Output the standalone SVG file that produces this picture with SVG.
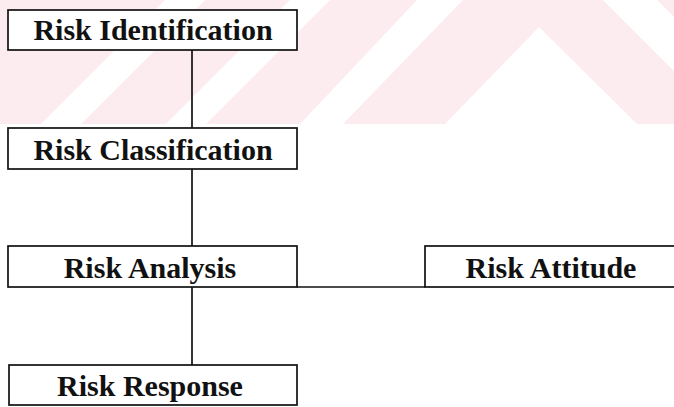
<svg xmlns="http://www.w3.org/2000/svg" width="674" height="407" viewBox="0 0 674 407">
<style>
.box{fill:#ffffff;stroke:#111;stroke-width:1.7}
.lbl{font-family:"Liberation Serif","Times New Roman",serif;font-weight:bold;font-size:30px;fill:#111;text-anchor:middle}
.con{stroke:#111;stroke-width:1.7;fill:none}
.wm{fill:#fcecef}
.gap{fill:#ffffff}
</style>
<rect width="674" height="407" fill="#ffffff"/>
<g id="watermark">
<rect class="wm" x="0" y="0" width="674" height="124"/>
<polygon class="gap" points="165,0 205,0 81,124 41,124"/>
<polygon class="gap" points="290,0 330,0 206,124 166,124"/>
<polygon class="gap" points="417,0 463,0 343,124 300,124"/>
<polygon class="gap" points="539,27 445,124 637,124"/>
<polygon class="gap" points="603,0 657,0 674,17 674,71"/>
</g>
<g id="connectors">
<line class="con" x1="192" y1="50" x2="192" y2="128"/>
<line class="con" x1="192" y1="169" x2="192" y2="246"/>
<line class="con" x1="192" y1="287" x2="192" y2="365"/>
<line class="con" x1="297" y1="287" x2="425" y2="287"/>
</g>
<g id="risk-identification">
<rect class="box" x="8" y="10" width="289" height="40"/>
<text class="lbl" x="153" y="40">Risk Identification</text>
</g>
<g id="risk-classification">
<rect class="box" x="8" y="128" width="289" height="41"/>
<text class="lbl" x="153" y="160">Risk Classification</text>
</g>
<g id="risk-analysis">
<rect class="box" x="8" y="246" width="289" height="41"/>
<text class="lbl" x="150" y="278">Risk Analysis</text>
</g>
<g id="risk-attitude">
<rect class="box" x="425" y="246" width="260" height="41"/>
<text class="lbl" x="551" y="278">Risk Attitude</text>
</g>
<g id="risk-response">
<rect class="box" x="9" y="365" width="288" height="40"/>
<text class="lbl" x="150" y="396">Risk Response</text>
</g>
</svg>
